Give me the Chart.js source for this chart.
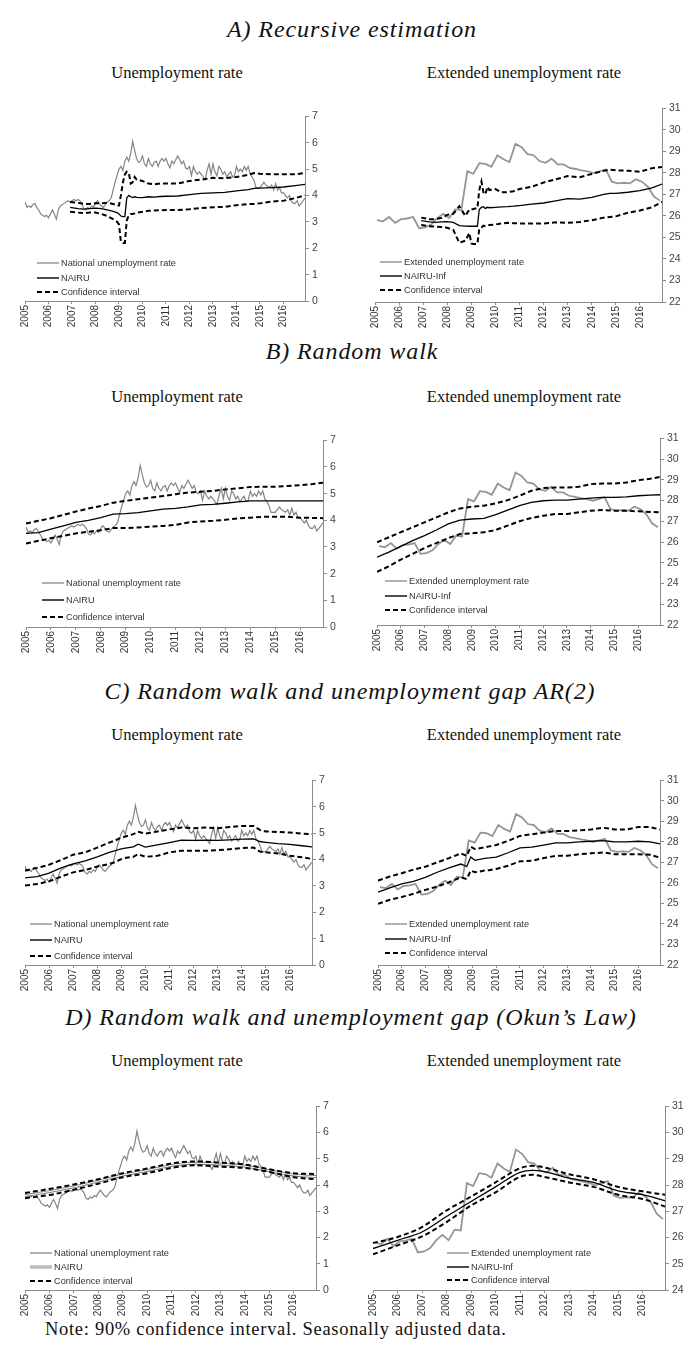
<!DOCTYPE html>
<html><head><meta charset="utf-8">
<script src="https://cdn.jsdelivr.net/npm/chart.js@4.4.1/dist/chart.umd.min.js"></script>
<style>
body{margin:0;background:#fff;width:700px;height:1348px;position:relative;overflow:hidden;}
.t{position:absolute;font-family:"Liberation Serif",serif;font-style:italic;font-size:24px;line-height:24px;color:#111;white-space:nowrap;transform:translateX(-50%);letter-spacing:0.9px}
.s{position:absolute;font-family:"Liberation Serif",serif;font-size:16.5px;line-height:16px;color:#111;white-space:nowrap;transform:translateX(-50%)}
.n{position:absolute;font-family:"Liberation Serif",serif;font-size:18.5px;line-height:18px;color:#111;white-space:nowrap;letter-spacing:0.7px}
.box{position:absolute}
.lg{position:absolute;font-family:"Liberation Sans",Arial,sans-serif;font-size:9.2px;color:#333;white-space:nowrap}
.lg div{display:flex;align-items:center}
.lg svg{margin-right:2px}
</style></head><body>
<div class="t" style="left:352px;top:17px">A) Recursive estimation</div>
<div class="s" style="left:177px;top:65px">Unemployment rate</div>
<div class="s" style="left:524px;top:65px">Extended unemployment rate</div>
<div class="t" style="left:352px;top:339px">B) Random walk</div>
<div class="s" style="left:177px;top:389px">Unemployment rate</div>
<div class="s" style="left:524px;top:389px">Extended unemployment rate</div>
<div class="t" style="left:350px;top:679px">C) Random walk and unemployment gap AR(2)</div>
<div class="s" style="left:177px;top:727px">Unemployment rate</div>
<div class="s" style="left:524px;top:727px">Extended unemployment rate</div>
<div class="t" style="left:351px;top:1005px">D) Random walk and unemployment gap (Okun’s Law)</div>
<div class="s" style="left:177px;top:1053px">Unemployment rate</div>
<div class="s" style="left:524px;top:1053px">Extended unemployment rate</div>
<div class="n" style="left:45px;top:1320px">Note: 90% confidence interval. Seasonally adjusted data.</div>
<script>
// ---------- DATA ----------
const yearTicks = [2005,2006,2007,2008,2009,2010,2011,2012,2013,2014,2015,2016];
const firstMonth = 2005;        // national series: monthly, Jan 2005 - Dec 2016
const natRate = [
 3.75,3.55,3.6,3.55,3.65,3.7,3.55,3.45,3.3,3.25,3.2,3.25,
 3.15,3.3,3.45,3.3,3.1,3.45,3.6,3.65,3.7,3.75,3.8,3.75,
 3.8,3.85,3.8,3.85,3.8,3.7,3.5,3.45,3.55,3.5,3.6,3.55,
 3.7,3.8,3.7,3.6,3.55,3.65,3.75,3.8,3.9,4.2,4.5,4.75,
 5.0,5.1,4.95,5.3,5.45,5.3,5.6,6.05,5.7,5.4,5.25,5.3,
 5.5,5.2,5.1,5.4,5.2,5.1,5.25,5.3,5.1,5.3,5.4,5.3,
 5.4,5.2,5.05,5.3,5.2,5.35,5.5,5.35,5.2,5.3,5.05,5.0,
 5.1,4.75,5.1,4.9,4.8,4.9,4.8,4.7,4.6,4.95,5.2,4.8,
 5.2,4.9,4.75,5.1,5.0,4.8,4.9,4.7,4.8,4.9,4.7,4.75,
 5.1,4.9,5.0,4.9,5.1,4.95,5.1,4.8,4.7,4.55,4.3,4.3,
 4.3,4.4,4.5,4.4,4.35,4.3,4.4,4.2,4.45,4.2,4.3,4.1,
 4.1,4.0,3.9,4.0,3.8,3.7,3.7,3.8,3.6,3.7,3.8,3.9];
// extended series: quarterly, 2005Q1 - 2016Q4
const extRate = [
 25.8,25.75,25.95,25.68, 25.85,25.88,25.95,25.43, 25.47,25.6,25.9,26.1,
 25.9,26.3,26.27,28.07, 27.96,28.45,28.42,28.28, 28.82,28.63,28.5,29.35,
 29.19,28.87,28.82,28.55, 28.47,28.66,28.39,28.39, 28.23,28.18,28.12,28.07,
 27.99,28.07,28.15,27.59, 27.51,27.54,27.51,27.7, 27.59,27.35,26.9,26.71];

// A) Recursive estimation (dates in years)
const datesA = [2006.92,2007.25,2007.5,2007.75,2008.0,2008.25,2008.5,2008.75,2008.92,2009.0,2009.08,2009.17,2009.25,2009.33,2009.42,2009.5,2009.58,2009.67,2009.75,2010.0,2010.25,2010.5,2010.75,2011.0,2011.5,2012.0,2012.5,2013.0,2013.5,2014.0,2014.5,2014.75,2015.0,2015.5,2016.0,2016.5,2016.92];
const aLeftNairu = [3.55,3.5,3.48,3.5,3.52,3.5,3.45,3.4,3.35,3.3,3.22,3.2,3.2,3.9,4.0,3.95,3.92,3.95,3.93,3.92,3.95,3.94,3.96,3.97,3.98,4.03,4.08,4.1,4.12,4.17,4.22,4.27,4.28,4.3,4.32,4.37,4.42];
const aLeftUpper = [3.75,3.72,3.68,3.68,3.7,3.7,3.72,3.68,3.62,3.62,4.0,4.5,4.8,4.9,4.85,4.45,4.5,4.7,4.6,4.55,4.45,4.42,4.45,4.45,4.45,4.55,4.6,4.67,4.65,4.7,4.78,4.85,4.82,4.8,4.8,4.8,4.85];
const aLeftLower = [3.38,3.35,3.33,3.35,3.35,3.3,3.22,3.1,3.0,2.9,2.25,2.2,2.2,3.05,3.25,3.3,3.3,3.32,3.35,3.38,3.42,3.43,3.44,3.45,3.45,3.48,3.52,3.55,3.57,3.63,3.67,3.68,3.7,3.77,3.8,3.9,4.0];
const aRightNairu = [25.78,25.72,25.7,25.72,25.73,25.7,25.55,25.53,25.52,25.52,25.52,25.52,25.52,26.3,26.4,26.43,26.35,26.4,26.38,26.4,26.42,26.43,26.45,26.48,26.55,26.6,26.7,26.8,26.78,26.86,27.0,27.05,27.05,27.1,27.17,27.3,27.48];
const aRightUpper = [25.92,25.85,25.85,25.9,26.05,26.1,26.45,26.0,26.3,26.3,26.32,26.35,26.35,27.2,27.6,27.1,27.0,27.35,27.2,27.25,27.1,27.1,27.15,27.25,27.35,27.55,27.7,27.85,27.8,27.95,28.1,28.15,28.12,28.1,28.05,28.22,28.27];
const aRightLower = [25.58,25.52,25.5,25.48,25.45,25.35,24.75,24.85,25.2,24.72,24.7,24.7,24.7,25.4,25.45,25.55,25.52,25.55,25.58,25.6,25.65,25.68,25.66,25.65,25.65,25.65,25.7,25.68,25.72,25.8,25.92,25.95,25.98,26.15,26.25,26.4,26.65];

// B) Random walk
const datesB = [2005,2005.5,2006,2006.5,2007,2007.5,2008,2008.5,2009,2009.5,2010,2010.5,2011,2011.5,2012,2012.5,2013,2013.5,2014,2014.5,2015,2015.5,2016,2016.5,2016.92];
const bLeftNairu = [3.51,3.54,3.67,3.79,3.92,4.0,4.1,4.23,4.25,4.29,4.35,4.42,4.45,4.5,4.58,4.6,4.64,4.69,4.73,4.73,4.73,4.73,4.73,4.73,4.73];
const bLeftUpper = [3.88,3.98,4.08,4.2,4.33,4.44,4.54,4.66,4.73,4.79,4.85,4.91,4.98,5.04,5.07,5.1,5.16,5.2,5.25,5.26,5.26,5.29,5.32,5.36,5.41];
const bLeftLower = [3.13,3.23,3.33,3.42,3.51,3.57,3.63,3.71,3.71,3.73,3.76,3.79,3.83,3.92,3.96,3.98,4.02,4.07,4.1,4.13,4.13,4.13,4.1,4.09,4.08];
const bRightNairu = [25.27,25.51,25.79,26.07,26.31,26.58,26.87,27.06,27.11,27.14,27.32,27.54,27.75,27.91,27.99,28.02,28.02,28.07,28.12,28.15,28.15,28.18,28.23,28.26,28.28];
const bRightUpper = [25.99,26.23,26.47,26.71,26.95,27.19,27.43,27.62,27.7,27.75,27.86,28.02,28.23,28.47,28.6,28.63,28.63,28.66,28.79,28.82,28.82,28.87,28.98,29.05,29.14];
const bRightLower = [24.56,24.83,25.15,25.43,25.71,25.95,26.19,26.39,26.42,26.47,26.58,26.79,27.0,27.16,27.27,27.35,27.35,27.43,27.51,27.54,27.51,27.51,27.48,27.45,27.43];

// C) Random walk and unemployment gap AR(2)
const datesC = [2005,2005.5,2006,2006.5,2007,2007.5,2008,2008.5,2008.75,2008.92,2009.1,2009.5,2009.7,2010,2010.5,2011,2011.5,2012,2012.5,2013,2013.5,2014,2014.5,2014.75,2015,2015.5,2016,2016.5,2016.92];
const cLeftNairu = [3.3,3.35,3.48,3.68,3.83,3.95,4.1,4.27,4.33,4.38,4.42,4.48,4.58,4.47,4.55,4.64,4.73,4.72,4.73,4.72,4.74,4.77,4.78,4.68,4.65,4.6,4.57,4.52,4.48];
const cLeftUpper = [3.58,3.68,3.8,3.98,4.18,4.27,4.45,4.64,4.72,4.8,4.85,4.96,5.05,4.98,5.06,5.14,5.21,5.18,5.21,5.18,5.23,5.27,5.27,5.12,5.06,5.04,5.02,4.98,4.96];
const cLeftLower = [3.01,3.07,3.17,3.35,3.51,3.6,3.73,3.83,3.9,3.98,4.05,4.1,4.2,4.1,4.14,4.27,4.33,4.33,4.33,4.35,4.39,4.43,4.45,4.3,4.27,4.23,4.14,4.08,4.02];
const cRightNairu = [25.55,25.76,25.95,26.08,26.27,26.52,26.73,26.92,26.8,27.26,27.1,27.2,27.22,27.26,27.47,27.71,27.74,27.84,27.95,27.95,28.0,28.03,28.06,28.03,28.0,28.0,28.03,28.0,27.9];
const cRightUpper = [26.11,26.31,26.47,26.65,26.79,27.0,27.21,27.44,27.32,27.76,27.65,27.73,27.78,27.85,28.05,28.29,28.37,28.45,28.53,28.53,28.56,28.6,28.69,28.65,28.6,28.6,28.72,28.72,28.6];
const cRightLower = [24.98,25.18,25.31,25.47,25.66,25.82,26.03,26.27,26.19,26.6,26.52,26.6,26.62,26.68,26.84,27.05,27.08,27.21,27.32,27.32,27.4,27.44,27.48,27.45,27.4,27.4,27.4,27.37,27.23];

// D) Random walk and unemployment gap (Okun's Law)
const datesD = [2005,2006,2007,2008,2009,2010,2011,2011.5,2012,2013,2014,2015,2016,2016.92];
const dLeftNairu = [3.6,3.75,3.93,4.15,4.38,4.55,4.75,4.81,4.83,4.8,4.72,4.55,4.38,4.32];
const dLeftUpper = [3.7,3.85,4.02,4.22,4.45,4.63,4.82,4.88,4.9,4.85,4.78,4.6,4.45,4.42];
const dLeftLower = [3.5,3.62,3.82,4.05,4.3,4.45,4.65,4.72,4.75,4.7,4.65,4.5,4.3,4.22];
const dRightNairu = [25.58,25.89,26.21,26.8,27.37,27.93,28.48,28.56,28.51,28.26,28.1,27.78,27.63,27.4];
const dRightUpper = [25.79,26.02,26.4,27.03,27.56,28.1,28.64,28.73,28.67,28.41,28.22,27.93,27.76,27.63];
const dRightLower = [25.36,25.7,26.04,26.59,27.22,27.72,28.31,28.39,28.31,28.1,27.93,27.63,27.47,27.18];

const leftLabels = ['National unemployment rate','NAIRU','Confidence interval'];
const rightLabels = ['Extended unemployment rate','NAIRU-Inf','Confidence interval'];

// ---------- DRAWING ----------
Chart.defaults.font.family = '"Liberation Sans", Arial, sans-serif';
Chart.defaults.animation = false;

const natPts = natRate.map((y, i) => ({x: firstMonth + i / 12, y}));
const extPts = extRate.map((y, k) => ({x: firstMonth + (3 * k + 1) / 12, y}));
const pts = (xs, ys) => ys.map((y, i) => ({x: xs[i], y}));
const X_MAX = firstMonth + 143 / 12;
const PAD_L = 8, PAD_T = 8, YW = 24, XH = 30;

function lineDs(data, kind, smooth) {
  const base = {data, pointRadius: 0, fill: false, tension: smooth ? 0.4 : 0,
    cubicInterpolationMode: smooth ? 'monotone' : 'default'};
  if (kind === 'nat') return Object.assign(base, {borderColor: '#858585', borderWidth: 1.2, order: 5});
  if (kind === 'ext') return Object.assign(base, {borderColor: '#959595', borderWidth: 1.8, order: 5});
  if (kind === 'nairu') return Object.assign(base, {borderColor: '#000', borderWidth: 1.3, order: 3});
  if (kind === 'outer') return Object.assign(base, {borderColor: '#7a7a7a', borderWidth: 2.8, order: 4});
  if (kind === 'inner') return Object.assign(base, {borderColor: '#fff', borderWidth: 1.0, order: 2});
  return Object.assign(base, {borderColor: '#000', borderWidth: 2, borderDash: [5, 3], order: 1});
}

function makeChart(area, yMin, yMax, datasets) {
  const [L, T, R, B] = area;
  const box = document.createElement('div');
  box.className = 'box';
  box.style.left = (L - PAD_L) + 'px';
  box.style.top = (T - PAD_T) + 'px';
  box.style.width = (R - L + PAD_L + YW) + 'px';
  box.style.height = (B - T + PAD_T + XH) + 'px';
  const cv = document.createElement('canvas');
  box.appendChild(cv);
  document.body.appendChild(box);
  new Chart(cv, {
    type: 'line',
    data: {datasets},
    options: {
      responsive: true, maintainAspectRatio: false, animation: false,
      layout: {padding: {left: PAD_L, top: PAD_T, right: 0, bottom: 0}},
      plugins: {legend: {display: false}, tooltip: {enabled: false}},
      scales: {
        x: {type: 'linear', min: firstMonth, max: X_MAX,
          afterFit: s => { s.height = XH; },
          afterBuildTicks: s => { s.ticks = yearTicks.map(v => ({value: v})); },
          grid: {display: true, drawOnChartArea: false, drawTicks: true, tickLength: 3, color: '#8c8c8c'},
          border: {display: true, color: '#8c8c8c', width: 1},
          ticks: {autoSkip: false, minRotation: 90, maxRotation: 90, padding: 1,
            font: {size: 10}, color: '#333', callback: v => String(v)}},
        y: {position: 'right', min: yMin, max: yMax,
          afterFit: s => { s.width = YW; },
          grid: {display: true, drawOnChartArea: false, drawTicks: true, tickLength: 4, color: '#8c8c8c'},
          border: {display: true, color: '#8c8c8c', width: 1},
          ticks: {stepSize: 1, padding: 3, font: {size: 10.5}, color: '#444'}}
      }
    }
  });
}

function legend(x, y, rowH, labels, styles) {
  const d = document.createElement('div');
  d.className = 'lg';
  d.style.left = x + 'px';
  d.style.top = (y - rowH / 2) + 'px';
  labels.forEach((txt, i) => {
    const row = document.createElement('div');
    row.style.height = rowH + 'px';
    const st = styles[i];
    let svg = '<svg width="22" height="6" viewBox="0 0 22 6">';
    if (st === 'gray') svg += '<line x1="0" y1="3" x2="22" y2="3" stroke="#858585" stroke-width="1.3"/>';
    if (st === 'black') svg += '<line x1="0" y1="3" x2="22" y2="3" stroke="#000" stroke-width="1.4"/>';
    if (st === 'double') svg += '<line x1="0" y1="3" x2="22" y2="3" stroke="#7a7a7a" stroke-width="2.8"/><line x1="0" y1="3" x2="22" y2="3" stroke="#fff" stroke-width="1"/>';
    if (st === 'dash') svg += '<line x1="0" y1="3" x2="22" y2="3" stroke="#000" stroke-width="2" stroke-dasharray="5 3"/>';
    svg += '</svg>';
    row.innerHTML = svg + '<span>' + txt + '</span>';
    d.appendChild(row);
  });
  document.body.appendChild(d);
}

const std = ['gray', 'black', 'dash'];

// A
makeChart([25,115,305,301], 0, 7, [lineDs(natPts,'nat'), lineDs(pts(datesA,aLeftNairu),'nairu'),
  lineDs(pts(datesA,aLeftUpper),'ci'), lineDs(pts(datesA,aLeftLower),'ci')]);
makeChart([375,107,662,302], 22, 31, [lineDs(extPts,'ext'), lineDs(pts(datesA,aRightNairu),'nairu'),
  lineDs(pts(datesA,aRightUpper),'ci'), lineDs(pts(datesA,aRightLower),'ci')]);
legend(37, 263, 14.5, leftLabels, std);
legend(380, 262, 14, rightLabels, std);
// B
makeChart([26,439,323,627], 0, 7, [lineDs(natPts,'nat'), lineDs(pts(datesB,bLeftNairu),'nairu'),
  lineDs(pts(datesB,bLeftUpper),'ci'), lineDs(pts(datesB,bLeftLower),'ci')]);
makeChart([377,437,660,625], 22, 31, [lineDs(extPts,'ext'), lineDs(pts(datesB,bRightNairu),'nairu'),
  lineDs(pts(datesB,bRightUpper),'ci'), lineDs(pts(datesB,bRightLower),'ci')]);
legend(42, 583, 17, leftLabels, std);
legend(385, 581, 14.5, rightLabels, std);
// C
makeChart([25,779,312,965], 0, 7, [lineDs(natPts,'nat'), lineDs(pts(datesC,cLeftNairu),'nairu'),
  lineDs(pts(datesC,cLeftUpper),'ci'), lineDs(pts(datesC,cLeftLower),'ci')]);
makeChart([378,779,660,965], 22, 31, [lineDs(extPts,'ext'), lineDs(pts(datesC,cRightNairu),'nairu'),
  lineDs(pts(datesC,cRightUpper),'ci'), lineDs(pts(datesC,cRightLower),'ci')]);
legend(30, 924, 16, leftLabels, std);
legend(385, 924, 14.5, rightLabels, std);
// D
makeChart([25,1105,316,1290], 0, 7, [lineDs(natPts,'nat'), lineDs(pts(datesD,dLeftNairu),'outer',true),
  lineDs(pts(datesD,dLeftNairu),'inner',true),
  lineDs(pts(datesD,dLeftUpper),'ci',true), lineDs(pts(datesD,dLeftLower),'ci',true)]);
makeChart([373,1105,665,1290], 24, 31, [lineDs(extPts,'ext'), lineDs(pts(datesD,dRightNairu),'nairu',true),
  lineDs(pts(datesD,dRightUpper),'ci',true), lineDs(pts(datesD,dRightLower),'ci',true)]);
legend(30, 1253, 14, leftLabels, ['gray','double','dash']);
legend(447, 1253, 13.5, rightLabels, std);
</script>
</body></html>
